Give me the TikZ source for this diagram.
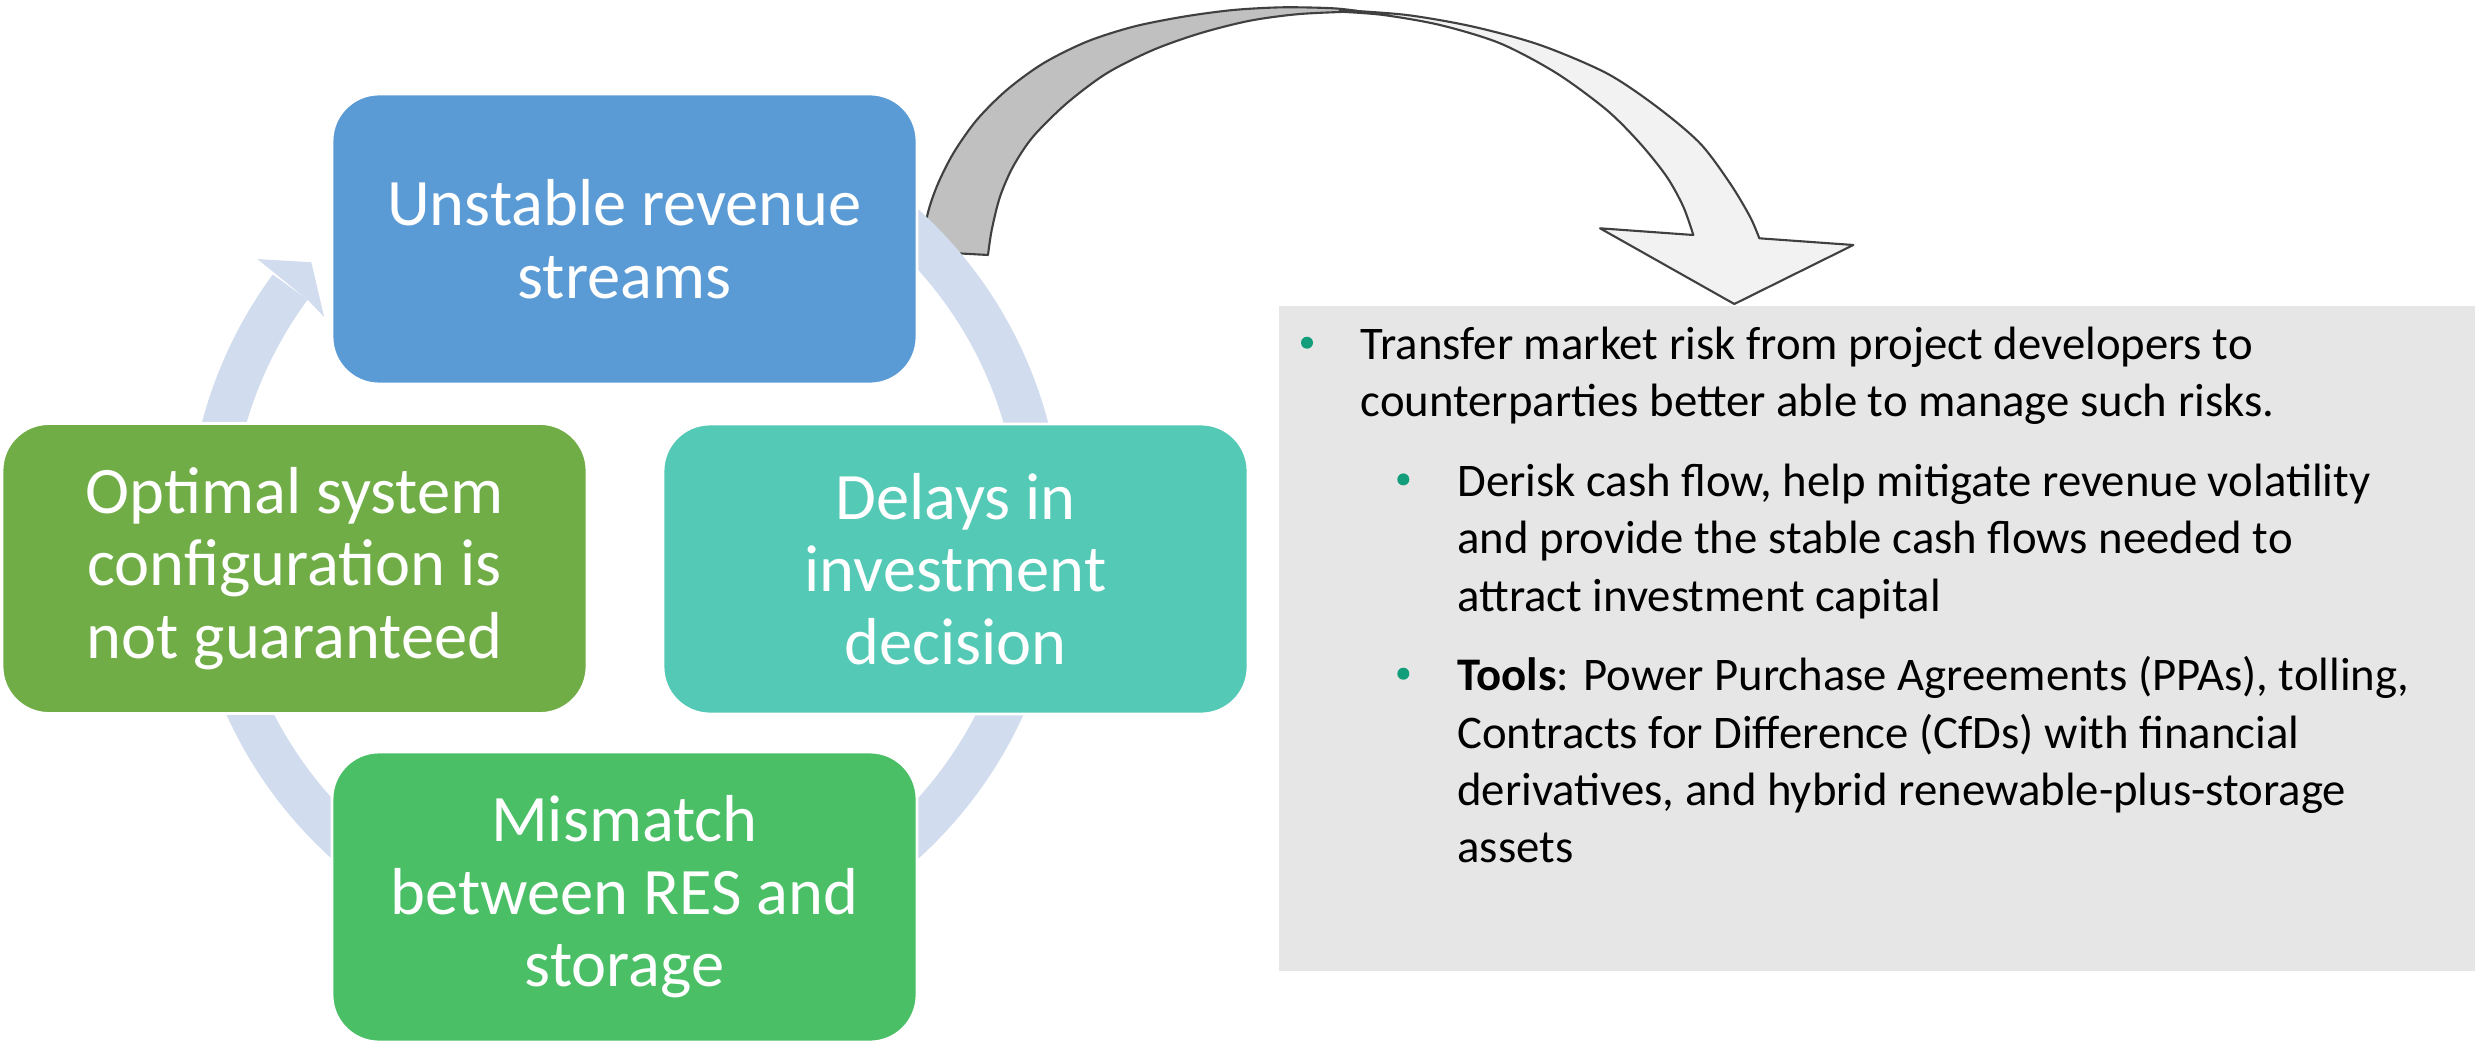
\documentclass[tikz,border=0pt]{standalone}
\usepackage{fontspec}
\setmainfont{Carlito}
\usetikzlibrary{positioning}

\definecolor{stageBlue}{RGB}{91,155,213}
\definecolor{stageOlive}{RGB}{112,173,71}
\definecolor{stageTeal}{RGB}{83,201,182}
\definecolor{stageGreen}{RGB}{74,191,102}
\definecolor{ringBlue}{RGB}{209,220,238}
\definecolor{panelGray}{RGB}{231,230,230}
\definecolor{bandDarkGray}{RGB}{192,192,192}
\definecolor{bandLightGray}{RGB}{242,242,242}
\definecolor{edgeGray}{RGB}{64,64,64}
\definecolor{dotGreen}{RGB}{18,158,122}

\begin{document}
\begin{tikzpicture}[
    >=latex,                  % LaTeX arrow tips
    line join=round
  ]

  %--- styles for the cycle boxes, the panel and the bullets ---
  \tikzset{
    stageStyle/.style ={rectangle, rounded corners=4.7mm, draw=white,
    line width=0.8pt, minimum width=5.85cm, minimum height=2.9cm,
    align=center, text=white, font=\fontsize{18.9}{20.6}\selectfont},
    blueStage/.style  ={stageStyle, fill=stageBlue},
    oliveStage/.style ={stageStyle, fill=stageOlive},
    tealStage/.style  ={stageStyle, fill=stageTeal},
    greenStage/.style ={stageStyle, fill=stageGreen},
    panelStyle/.style ={rectangle, fill=panelGray, minimum width=11.96cm,
    minimum height=6.65cm},
    % base anchor sits on the last line of a multi-line node
    infoText/.style   ={anchor=base west, align=left, inner sep=0pt,
    font=\fontsize{13.3}{16.3}\selectfont},
    dotStyle/.style   ={circle, fill=dotGreen, inner sep=0pt, minimum
    size=1.2mm},
    ringStyle/.style  ={draw=ringBlue, line width=4.3mm},
    darkBand/.style   ={fill=bandDarkGray, draw=edgeGray, line width=0.6pt},
    lightBand/.style  ={fill=bandLightGray, draw=edgeGray, line width=0.6pt},
  }

  \useasboundingbox (0,0) rectangle (24.83,10.44);
  \fill[white] (0,0) rectangle (24.83,10.44);

  %------------------------------------------------------------------------------
  % 1) Big curved arrow (back side dark, front side light)
  %------------------------------------------------------------------------------
  \filldraw[darkBand] plot[smooth] coordinates {(9.255,7.925) (9.267,8.257)
    (9.367,8.573) (9.533,8.907) (9.767,9.24) (10.067,9.54) (10.433,9.807)
    (10.867,10.023) (11.333,10.173) (11.833,10.273) (12.333,10.34)
    (12.833,10.367) (13.333,10.357) (13.6,10.327)}
    -- plot[smooth] coordinates {(13.6,10.327) (13.0,10.30) (12.5,10.233)
    (12.0,10.107) (11.53,9.94) (11.067,9.707) (10.667,9.407) (10.33,9.073)
    (10.13,8.773) (10.0,8.473) (9.917,8.14) (9.88,7.89)} -- cycle;

  \filldraw[lightBand] plot[smooth] coordinates {(13.4,10.34) (14.067,10.29)
    (14.733,10.173) (15.4,9.99) (16.067,9.707) (16.567,9.373) (17.0,9.007)
    (17.3,8.607) (17.5,8.273) (17.593,8.057)}
    -- (18.533,7.99) -- (17.343,7.40) -- (16.0,8.157) -- (16.933,8.09)
    -- plot[smooth] coordinates {(16.933,8.09) (16.833,8.373) (16.667,8.673)
    (16.4,9.007) (16.067,9.34) (15.567,9.707) (15.0,10.007) (14.4,10.19)
    (13.833,10.29) (13.4,10.323)} -- cycle;

  %------------------------------------------------------------------------------
  % 2) Cycle ring with its head (behind the boxes)
  %------------------------------------------------------------------------------
  \begin{scope}[shift={(6.25,5.10)}]
    \draw[ringStyle] (100:4.16) arc[start angle=100, end angle=-216.4,
    radius=4.16];
    \fill[ringBlue] (143.2:4.59) -- (139.1:4.15) -- (144.2:3.71) -- (143.6:3.93)
    -- cycle;
  \end{scope}

  %------------------------------------------------------------------------------
  % 3) The four boxes of the cycle
  %------------------------------------------------------------------------------
  \node[blueStage]  (revenue)  at (6.245,8.05) {Unstable revenue\\streams};
  \node[oliveStage] (config)   at (2.945,4.755) {Optimal system\\configuration is\\not guaranteed};
  \node[tealStage]  (delays)   at (9.555,4.75) {Delays in\\investment\\decision};
  \node[greenStage] (mismatch) at (6.245,1.47) {Mismatch\\between RES and\\storage};

  %------------------------------------------------------------------------------
  % 4) Gray panel with the bullet list
  %------------------------------------------------------------------------------
  \node[panelStyle] (panel) at (18.77,4.055) {};

  \node[infoText] (transfer) at (13.60,6.274)
  {Transfer market risk from project developers to\\
    counterparties better able to manage such risks.};
  \node[infoText] (derisk) at (14.567,4.329)
  {Derisk cash flow, help mitigate revenue volatility\\
    and provide the stable cash flows needed to\\
    attract investment capital};
  \node[infoText] (tools) at (14.567,1.813)
  {\textbf{Tools}: Power Purchase Agreements (PPAs), tolling,\\
    Contracts for Difference (CfDs) with financial\\
    derivatives, and hybrid renewable-plus-storage\\
    assets};

  \node[dotStyle] (dotA) at (13.07,7.013) {};
  \node[dotStyle] (dotB) at (14.033,5.646) {};
  \node[dotStyle] (dotC) at (14.033,3.703) {};

\end{tikzpicture}
\end{document}
